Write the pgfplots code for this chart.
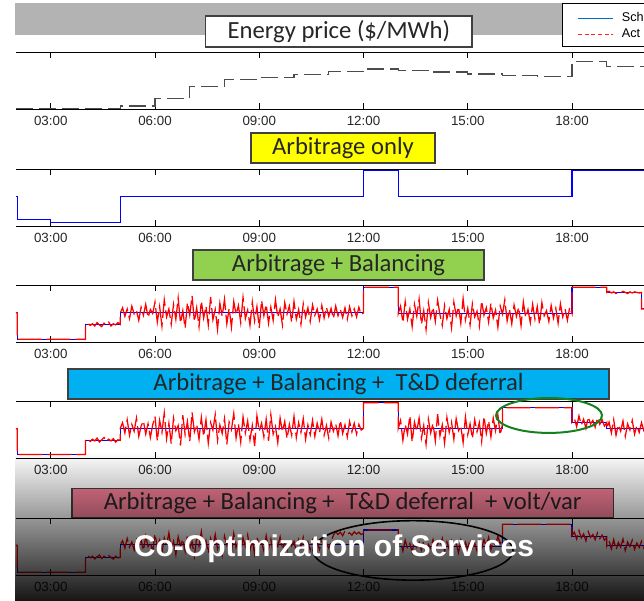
\documentclass[border=0pt]{standalone}
\usepackage{fontspec}
\setmainfont{Liberation Sans}
\newfontfamily\calibri{Carlito}
\usepackage{pgfplots}
\pgfplotsset{compat=1.18}
\usetikzlibrary{fadings}
\tikzfading[name=darkfade, top color=transparent!100, bottom color=transparent!8]

\definecolor{boxyellow}{RGB}{255,255,0}
\definecolor{boxgreen}{RGB}{146,208,80}
\definecolor{boxblue}{RGB}{0,176,240}
\definecolor{boxpink}{RGB}{248,128,152}
\definecolor{bandgray}{RGB}{179,179,179}
\definecolor{ellgreen}{RGB}{20,130,30}
\definecolor{legblue}{RGB}{0,112,192}

\pgfplotsset{panel/.style={
  scale only axis, width=471pt, height=42.75pt,
  xmin=120, xmax=1204.3, ymin=0, ymax=100,
  anchor=north west,
  xtick={180,360,540,720,900,1080},
  xticklabels={03:00,06:00,09:00,12:00,15:00,18:00},
  ytick=\empty,
  separate axis lines,
  x axis line style={black, line width=0.6pt},
  y axis line style={draw=none},
  major tick length=4.5pt,
  tick style={black, line width=0.6pt},
  tick align=inside,
  xticklabel style={font=\fontsize{10}{12}\selectfont, text=black!85, yshift=-1.5pt},
},
sched/.style={blue, line width=0.8pt, const plot, mark=none},
act/.style={red, line width=0.95pt, mark=none, dash pattern=on 18pt off 3.5pt},
}
\tikzset{titlebox/.style={draw=black!75, line width=0.9pt},
 titletext/.style={font=\calibri\fontsize{18.5}{22}\selectfont, text=black!85}}

\begin{document}
\begin{tikzpicture}
\path[use as bounding box] (0,0) rectangle (483pt,-450.75pt);
\clip (0,0) rectangle (483pt,-450.75pt);

% top band and legend
\fill[bandgray] (11.25pt,-2.5pt) rectangle (422pt,-26.25pt);
\draw[black, line width=0.75pt, fill=white] (422pt,-2.5pt) rectangle (500pt,-35pt);
\draw[legblue, line width=0.9pt] (433.5pt,-13.7pt) -- (459.75pt,-13.7pt);
\draw[red!85, line width=0.9pt, dash pattern=on 3pt off 2pt] (433.5pt,-25.7pt) -- (459.75pt,-25.7pt);
\node[anchor=west, inner sep=0pt, font=\fontsize{9.5}{11}\selectfont] at (466.2pt,-12.5pt) {Sch};
\node[anchor=west, inner sep=0pt, font=\fontsize{9.5}{11}\selectfont] at (466.2pt,-25pt) {Act};

% Panel 1: energy price
\begin{axis}[panel, at={(12pt,-39pt)}]
\addplot[black!70, line width=1pt, const plot, mark=none, dash pattern=on 12.75pt off 4.5pt] coordinates {
(120,1) (300,5) (360,18.6) (420,39) (480,51.7) (540,55.2) (600,60.5) (660,66.3) (720,70.3) (780,68) (840,65) (900,61.6) (960,59.3) (1020,57.6) (1080,83) (1140,75) (1200,74) (1260,74)};
\end{axis}
\draw[titlebox, fill=white] (154.2pt,-12pt) rectangle (354pt,-35.25pt);
\node[titletext] at (254.1pt,-23.6pt) {Energy price (\$/MWh)};

% Panel 2: arbitrage only
\draw[titlebox, fill=boxyellow] (188.25pt,-99.75pt) rectangle (326.25pt,-122.25pt);
\node[titletext] at (257.25pt,-111pt) {Arbitrage only};
\begin{axis}[panel, at={(12pt,-126.75pt)}]
\addplot[sched] coordinates {(120,52) (122,10.6) (180,6.5) (300,52) (720,97.5) (780,52) (1080,97.5) (1260,97.5)};
\end{axis}

% Panel 3: arbitrage + balancing
\draw[titlebox, fill=boxgreen] (144.75pt,-187.5pt) rectangle (363pt,-210pt);
\node[titletext] at (253.9pt,-198.75pt) {Arbitrage + Balancing};
\begin{axis}[panel, at={(12pt,-213.75pt)}]
\addplot[sched] coordinates {(120,51.5) (122,4.7) (240,31) (300,51) (720,96) (780,50) (1080,96) (1140,87) (1200,58) (1260,58)};
\addplot[act] coordinates {
(120,51.5)(122,51.5)(122,4.7)(240,4.7)(240,31)
(244,33)(248,29)(252,32)(256,28)(260,34)(264,30)(268,27)(272,33)(276,31)(280,35)(284,28)(288,32)(292,30)(296,34)(300,31)(300,51)
(304,60)(308,45)(312,58)(316,41)(320,63)(324,49)(328,55)(332,38)(336,61)(340,47)(344,66)(348,43)(352,57)(356,50)
(360,70)(364,35)(368,62)(372,28)(376,74)(380,44)(384,58)(388,31)(392,66)(396,40)
(400,77)(404,33)(408,55)(412,24)(416,69)(420,47)(424,81)(428,36)(432,60)(436,27)
(440,72)(444,42)(448,63)(452,30)(456,79)(460,39)(464,57)(468,22)(472,68)(476,45)
(480,75)(484,32)(488,59)(492,26)(496,71)(500,48)(504,64)(508,34)(512,78)(516,41)
(520,56)(524,29)(528,70)(532,37)(536,62)(540,25)(544,73)(548,46)(552,66)(556,33)
(560,61)(564,38)(568,74)(572,43)(576,58)(580,30)(584,69)(588,49)(592,63)(596,35)
(600,71)(604,40)(608,57)(612,31)(616,67)(620,44)(624,60)(628,36)(632,65)(636,47)
(640,58)(644,39)(648,64)(652,42)(656,61)(660,45)(664,59)(668,41)(672,63)(676,46)
(680,57)(684,43)(688,60)(692,40)(696,62)(700,46)(704,58)(708,44)(712,61)(716,48)
(720,51)(720,96)(780,96)(780,50)
(784,63)(788,34)(792,71)(796,40)(800,58)(804,27)(808,66)(812,45)(816,75)
(820,31)(824,55)(828,22)(832,69)(836,43)(840,61)(844,36)(848,73)(852,48)(856,29)
(860,64)(864,41)(868,57)(872,25)(876,70)(880,46)(884,62)(888,33)(892,76)(896,39)
(900,59)(904,30)(908,67)(912,44)(916,54)(920,28)(924,72)(928,47)(932,60)(936,35)
(940,68)(944,42)(948,56)(952,26)(956,63)(960,49)(964,74)(968,37)(972,58)(976,32)
(980,65)(984,45)(988,61)(992,29)(996,70)(1000,43)(1004,57)(1008,34)(1012,66)(1016,40)
(1020,62)(1024,31)(1028,69)(1032,46)(1036,55)(1040,36)(1044,64)(1048,42)(1052,59)(1056,33)
(1060,67)(1064,44)(1068,58)(1072,38)(1076,61)(1080,50)(1080,96)(1140,96)(1140,87)
(1144,89)(1148,86)(1152,88)(1156,85)(1160,88)(1164,86)(1168,89)(1172,87)(1176,85)(1180,88)
(1184,86)(1188,88)(1192,87)(1196,86)(1200,87)(1200,58)(1210,58)};
\end{axis}

% Panel 4: + T&D deferral
\draw[titlebox, fill=boxblue] (51pt,-276.75pt) rectangle (456.75pt,-299.25pt);
\node[titletext] at (253.9pt,-288pt) {Arbitrage + Balancing +\ \ T\&D deferral};
\begin{axis}[panel, at={(12pt,-300.75pt)}]
\addplot[sched] coordinates {(120,51.5) (122,6) (240,31) (300,52) (720,97) (780,52) (960,88) (1080,62.5) (1140,52) (1260,52)};
\addplot[act] coordinates {
(120,51.5)(122,51.5)(122,6)(240,6)(240,31)
(244,34)(248,29)(252,33)(256,30)(260,35)(264,28)(268,32)(272,36)(276,29)(280,33)(284,30)(288,34)(292,28)(296,32)(300,31)(300,52)
(304,62)(308,44)(312,67)(316,40)(320,59)(324,47)(328,70)(332,38)(336,56)(340,65)(344,42)(348,60)(352,36)(356,58)
(360,73)(364,30)(368,66)(372,45)(376,79)(380,34)(384,61)(388,25)(392,70)(396,48)
(400,57)(404,22)(408,75)(412,41)(416,64)(420,29)(424,80)(428,46)(432,59)(436,33)
(440,71)(444,38)(448,67)(452,26)(456,62)(460,49)(464,76)(468,31)(472,58)(476,43)
(480,69)(484,24)(488,63)(492,50)(496,78)(500,35)(504,60)(508,28)(512,72)(516,44)
(520,65)(524,32)(528,57)(532,21)(536,74)(540,47)(544,61)(548,37)(552,68)(556,30)
(560,76)(564,42)(568,55)(572,27)(576,70)(580,46)(584,64)(588,34)(592,59)(596,40)
(600,73)(604,36)(608,62)(612,45)(616,69)(620,33)(624,58)(628,41)(632,66)(636,38)
(640,61)(644,44)(648,68)(652,40)(656,57)(660,35)(664,63)(668,47)(672,60)(676,39)
(680,66)(684,43)(688,58)(692,37)(696,64)(700,46)(704,61)(708,42)(712,59)(716,49)
(720,52)(720,97)(780,97)(780,52)
(784,66)(788,31)(792,59)(796,42)(800,74)(804,28)(808,63)(812,47)(816,70)(820,35)
(824,57)(828,24)(832,68)(836,44)(840,61)(844,30)(848,77)(852,39)(856,58)(860,26)
(864,71)(868,45)(872,63)(876,33)(880,69)(884,48)(888,56)(892,27)(896,72)(900,41)
(904,60)(908,34)(912,67)(916,46)(920,62)(924,29)(928,73)(932,43)(936,65)(940,37)
(944,70)(948,48)(952,76)(956,40)(960,60)(960,88)(1080,88)(1080,63)
(1084,70)(1088,55)(1092,74)(1096,58)(1100,68)(1104,52)(1108,72)(1112,60)(1116,66)(1120,54)
(1124,71)(1128,59)(1132,67)(1136,56)(1140,62)(1140,52)
(1144,63)(1148,44)(1152,67)(1156,40)(1160,58)(1164,47)(1168,65)(1172,38)(1176,60)(1180,49)
(1184,66)(1188,42)(1192,57)(1196,45)(1200,62)(1204,48)(1210,55)};
\end{axis}
\draw[ellgreen, line width=1.5pt] (411.75pt,-311.6pt) ellipse [x radius=39.75pt, y radius=13.1pt];

% Panel 5: + volt/var
\draw[titlebox, fill=boxpink] (54pt,-366.25pt) rectangle (460pt,-388.25pt);
\node[titletext] at (257pt,-377.25pt) {Arbitrage + Balancing +\ \ T\&D deferral\ \ + volt/var};
\begin{axis}[panel, at={(12pt,-388.5pt)}]
\addplot[sched] coordinates {(120,52) (122,5) (240,31) (300,53) (720,79) (780,50) (960,89) (1080,67) (1140,51) (1260,51)};
\addplot[act] coordinates {
(120,52)(122,52)(122,5)(240,5)(240,31)
(244,34)(248,30)(252,33)(256,28)(260,32)(264,35)(268,29)(272,33)(276,30)(280,34)(284,31)(288,28)(292,33)(296,30)(300,31)(300,53)
(304,60)(308,47)(312,64)(316,49)(320,58)(324,44)(328,66)(332,51)(336,62)(340,43)
(344,68)(348,50)(352,57)(356,41)(360,72)(364,48)(368,61)(372,39)(376,65)(380,52)
(384,74)(388,45)(392,59)(396,36)(400,67)(404,50)(408,63)(412,42)(416,70)(420,47)
(424,58)(428,33)(432,66)(436,51)(440,76)(444,44)(448,60)(452,38)(456,64)(460,49)
(464,71)(468,46)(472,57)(476,35)(480,68)(484,52)(488,62)(492,41)(496,73)(500,48)
(504,59)(508,40)(512,65)(516,50)(520,70)(524,44)(528,61)(532,37)(536,66)(540,53)
(544,58)(548,42)(552,69)(556,47)(560,63)(564,39)(568,60)(572,50)(576,67)(580,45)
(584,57)(588,43)(592,64)(596,51)(600,59)(604,41)(608,62)(612,48)(616,66)(620,46)
(624,58)(628,44)(632,61)(636,50)(640,57)(644,45)(648,60)(652,49)(656,56)(660,47)(664,58)
(668,70)(672,76)(676,71)(680,75)(684,69)(688,77)(692,72)(696,74)(700,70)(704,76)(708,72)(712,75)(716,71)
(720,73)(720,79)(780,79)(780,50)
(784,58)(788,42)(792,61)(796,46)(800,55)(804,40)(808,63)(812,49)(816,57)(820,44)
(824,60)(828,38)(832,54)(836,47)(840,62)(844,43)(848,56)(852,50)(856,64)(860,41)
(864,58)(868,45)(872,60)(876,48)(880,55)(884,39)(888,61)(892,47)(896,57)(900,44)
(904,63)(908,48)(912,56)(916,42)(920,59)(924,46)(928,62)(932,50)(936,66)(940,45)
(944,60)(948,52)(952,68)(956,55)(960,60)(960,89)(1080,89)(1080,69)
(1084,75)(1088,63)(1092,78)(1096,65)(1100,72)(1104,60)(1108,76)(1112,66)(1116,71)(1120,62)
(1124,74)(1128,64)(1132,70)(1136,61)(1140,66)(1140,51)
(1144,60)(1148,46)(1152,62)(1156,44)(1160,57)(1164,49)(1168,63)(1172,43)(1176,58)(1180,50)
(1184,61)(1188,45)(1192,56)(1196,48)(1200,59)(1204,47)(1210,52)};
\end{axis}

% dark gradient overlay
\fill[black, path fading=darkfade] (11.25pt,-339pt) rectangle (483pt,-450.75pt);

\draw[black, line width=1.2pt] (309.75pt,-412.8pt) ellipse [x radius=75pt, y radius=22.3pt];
\node[anchor=base, text=white, inner sep=0pt, font=\fontsize{22.5}{27}\selectfont\bfseries] at (250.5pt,-417.5pt) {Co-Optimization of Services};
\end{tikzpicture}
\end{document}
